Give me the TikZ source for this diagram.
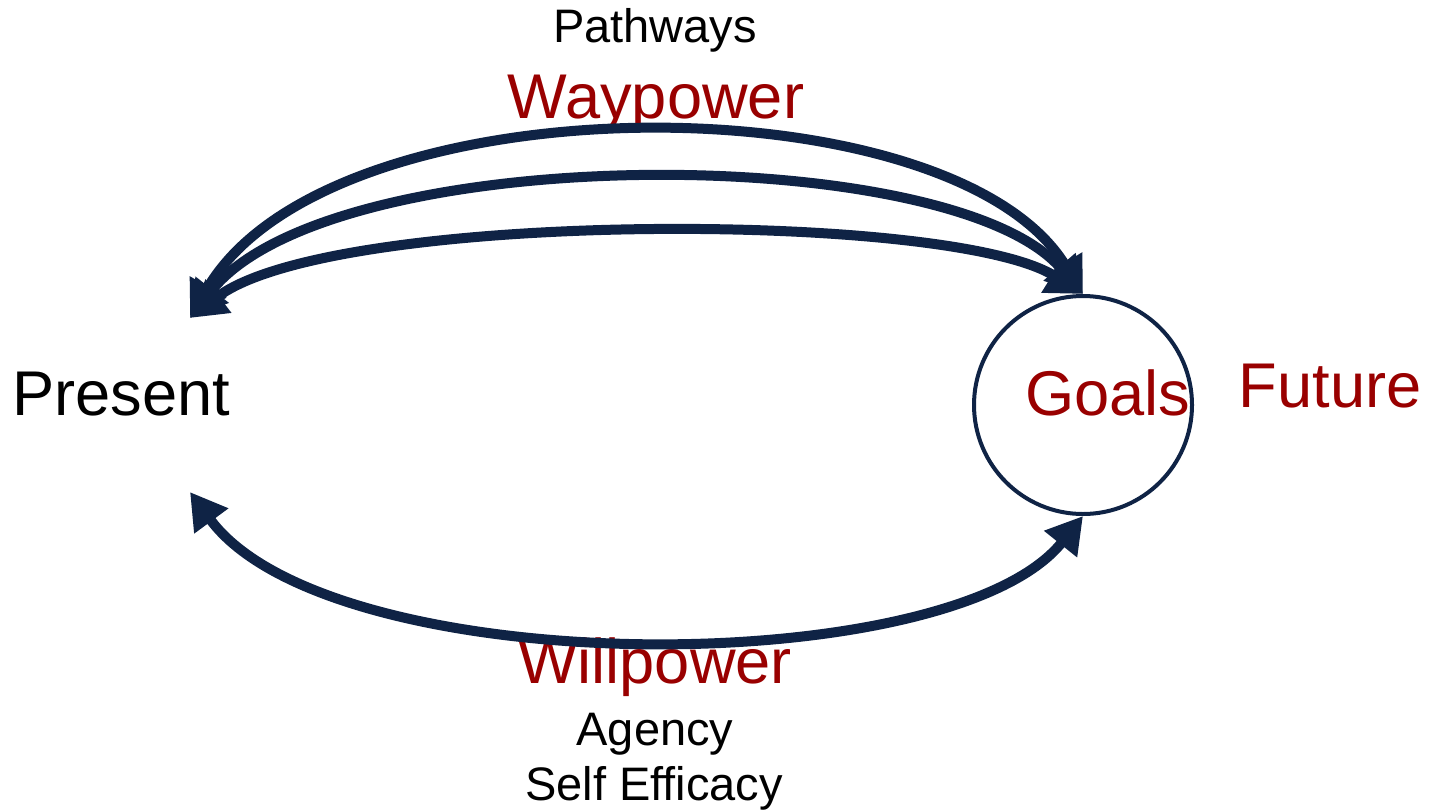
\documentclass[tikz,border=0pt]{standalone}
\usepackage{fontspec}
\setmainfont{Liberation Sans}
\usetikzlibrary{arrows.meta}
\definecolor{navy}{HTML}{0F2345}
\definecolor{darkred}{HTML}{990000}

\begin{document}
\begin{tikzpicture}[x=0.5pt, y=-0.5pt, big/.style={font=\fontsize{31.6}{36}\selectfont, inner sep=0pt, anchor=base}, small/.style={font=\fontsize{23.5}{28}\selectfont, inner sep=0pt, anchor=base}, hope/.style={navy, line width=5pt, {Triangle[length=18pt,width=20pt]}-{Triangle[length=18pt,width=20pt]}}]
  \useasboundingbox (0,0) rectangle (1433,809);
  \node[circle, draw=navy, line width=2pt, minimum size=109pt, inner sep=0pt](goal) at (1083,405){};
  \coordinate (presTop) at (190,318);
  \coordinate (presBot) at (190,492);
  % labels
  \node[big](present) at (121,415){Present};
  \node[big, darkred](goals) at (1108,415){Goals};
  \node[big, darkred](future) at (1330,407){Future};
  \node[small](pathways) at (655,42){Pathways};
  \node[big, darkred](waypower) at (656,118){Waypower};
  \node[big, darkred](willpower) at (655,683){Willpower};
  \node[small](agency) at (655,745){Agency};
  \node[small](efficacy) at (654,800){Self Efficacy};
  % arrows
  \draw[hope] (presTop) .. controls (330,78) and (950,78) .. (goal.north);
  \draw[hope] (presTop) .. controls (330,140) and (950,140) .. (goal.north);
  \draw[hope] (presTop) .. controls (330,210) and (950,210) .. (goal.north);
  \draw[hope] (presBot) .. controls (330,682) and (950,682) .. (goal.south);
\end{tikzpicture}
\end{document}
